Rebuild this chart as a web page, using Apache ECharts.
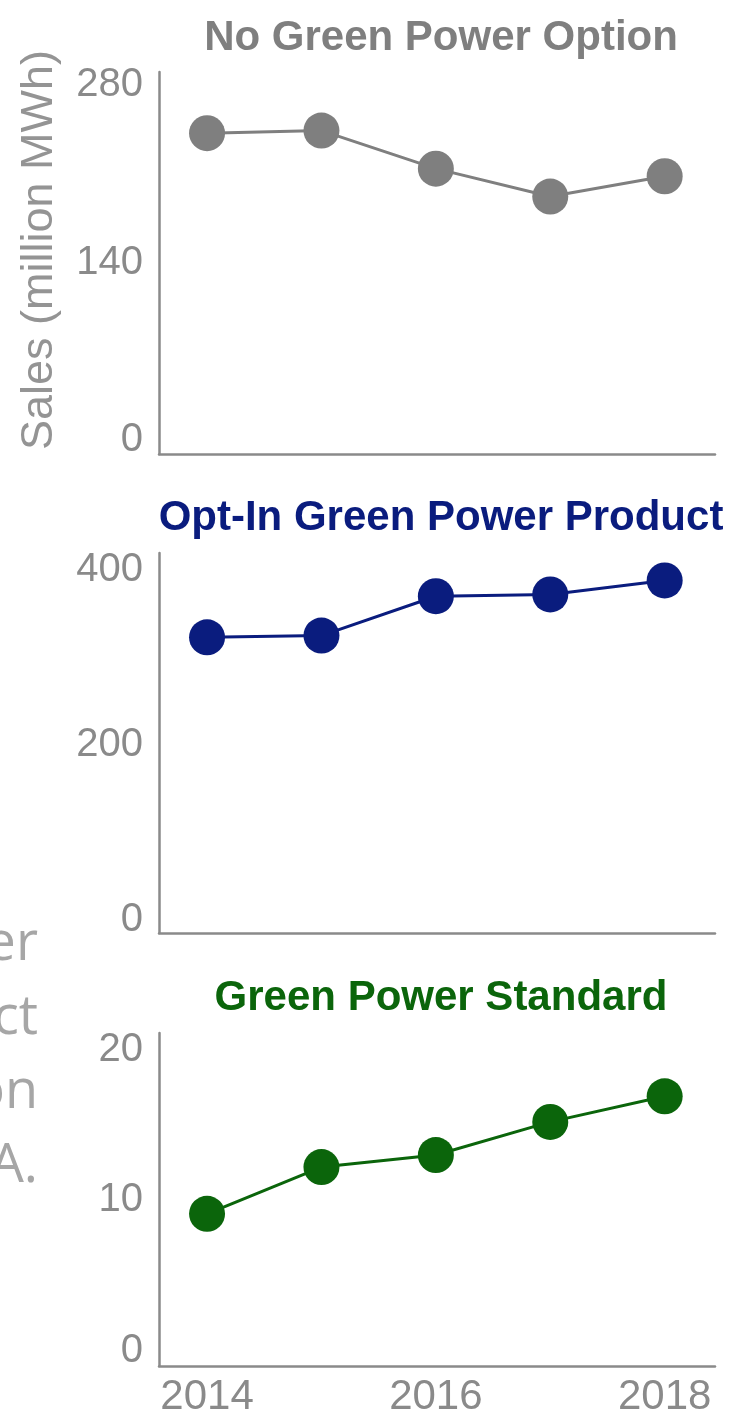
<!DOCTYPE html>
<html>
<head>
<meta charset="utf-8">
<script src="https://cdn.jsdelivr.net/npm/echarts@6/dist/echarts.min.js"></script>
<style>
  html, body {margin: 0; padding: 0; background: #fff;}
  #chart {width: 730px; height: 1418px;}
</style>
</head>
<body>
<div id="chart"></div>
<script>
// x: years
const years = [2014, 2015, 2016, 2017, 2018];
const yearTicks = [2014, 2016, 2018];

// sales (million MWh), one array per panel
const noOptionSales = [242, 244, 214, 192, 208];
const optInSales = [323, 325, 370, 372, 388];
const standardSales = [9.1, 12.2, 13.0, 15.2, 16.9];

const panelTitles = ['No Green Power Option', 'Opt-In Green Power Product', 'Green Power Standard'];
const panelColors = ['#7f7f7f', '#0a1c7e', '#0b650b'];
const yTicks1 = [0, 140, 280];
const yTicks2 = [0, 200, 400];
const yTicks3 = [0, 10, 20];
const yName = 'Sales (million MWh)';
// slide text cut off at the left edge
const cutTexts = ['er', 'ct', 'on', 'A.'];

const FONT = "'Liberation Sans', Arial, sans-serif";
const AXIS_GRAY = '#8a8a8a';

// grid boxes + y ranges (axis line runs a bit past the end ticks)
const panels = [
  {top: 72, height: 382, min: -11.0, max: 290.2, ticks: yTicks1, data: noOptionSales, titleY: 33},
  {top: 553, height: 380, min: -14.9, max: 419.4, ticks: yTicks2, data: optInSales, titleY: 513},
  {top: 1033, height: 334, min: -1.0, max: 21.1, ticks: yTicks3, data: standardSales, titleY: 993}
];

let chart = echarts.init(document.getElementById('chart'));

let grids = [], xAxes = [], yAxes = [], series = [], titles = [];
panels.forEach(function (p, i) {
  grids.push({left: 159, width: 556, top: p.top, height: p.height});
  xAxes.push({
    type: 'value',
    gridIndex: i,
    min: 2013.58,
    max: 2018.44,
    axisLine: {show: true, onZero: false, lineStyle: {color: AXIS_GRAY, width: 2.5}},
    axisTick: {show: false},
    splitLine: {show: false},
    axisLabel: {
      show: i === 2,
      customValues: yearTicks,
      formatter: function (v) { return String(v); },
      color: AXIS_GRAY,
      fontFamily: FONT,
      fontSize: 42,
      margin: 10
    }
  });
  yAxes.push({
    type: 'value',
    gridIndex: i,
    min: p.min,
    max: p.max,
    axisLine: {show: true, onZero: false, lineStyle: {color: AXIS_GRAY, width: 2.5}},
    axisTick: {show: false},
    splitLine: {show: false},
    axisLabel: {
      customValues: p.ticks,
      color: AXIS_GRAY,
      fontFamily: FONT,
      fontSize: 40,
      margin: 16
    }
  });
  series.push({
    type: 'line',
    xAxisIndex: i,
    yAxisIndex: i,
    data: years.map(function (y, k) { return [y, p.data[k]]; }),
    symbol: 'circle',
    symbolSize: 36,
    showSymbol: true,
    lineStyle: {color: panelColors[i], width: 3},
    itemStyle: {color: panelColors[i]},
    animation: false
  });
  titles.push({
    text: panelTitles[i],
    left: 436,
    top: p.titleY,
    textAlign: 'center',
    textVerticalAlign: 'middle',
    textStyle: {color: panelColors[i], fontFamily: FONT, fontWeight: 'bold', fontSize: 42}
  });
});

let graphics = [{
  type: 'text',
  x: 40,
  y: 250,
  rotation: Math.PI / 2,
  style: {
    text: yName,
    fill: '#949494',
    font: '45px ' + FONT,
    textAlign: 'center',
    textVerticalAlign: 'middle'
  }
}];
cutTexts.forEach(function (t, i) {
  graphics.push({
    type: 'text',
    x: 38,
    y: 945 + i * 74,
    style: {
      text: t,
      fill: '#a6a6a6',
      font: "54px 'Open Sans', sans-serif",
      textAlign: 'right',
      textVerticalAlign: 'middle'
    }
  });
});

chart.setOption({
  backgroundColor: '#fff',
  animation: false,
  title: titles,
  grid: grids,
  xAxis: xAxes,
  yAxis: yAxes,
  series: series,
  graphic: graphics
});
</script>
</body>
</html>
